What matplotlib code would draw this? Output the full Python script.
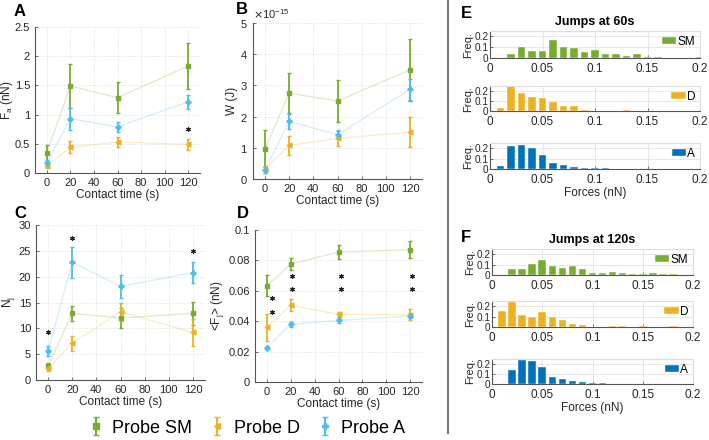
import numpy as np
import matplotlib
matplotlib.use('Agg')
import matplotlib.pyplot as plt
from matplotlib.lines import Line2D
from matplotlib.ticker import ScalarFormatter

plt.rcParams['font.family'] = ['Liberation Sans', 'DejaVu Sans']

t = [0, 20, 60, 120]

# panel A: adhesion force (nN)
fa_sm = [0.34, 1.49, 1.29, 1.83]
fa_sm_err = [0.14, 0.37, 0.27, 0.39]
fa_d = [0.12, 0.44, 0.53, 0.49]
fa_d_err = [0.04, 0.10, 0.08, 0.10]
fa_a = [0.17, 0.93, 0.79, 1.22]
fa_a_err = [0.05, 0.19, 0.08, 0.12]

# panel B: work (x1e-15 J)
w_sm = [0.97, 2.75, 2.50, 3.50]
w_sm_err = [0.60, 0.65, 0.66, 1.00]
w_d = [0.30, 1.08, 1.30, 1.50]
w_d_err = [0.12, 0.30, 0.25, 0.48]
w_a = [0.30, 1.85, 1.42, 2.87]
w_a_err = [0.10, 0.24, 0.15, 0.35]

# panel C: number of jumps
nj_sm = [2.7, 12.9, 12.0, 12.9]
nj_sm_err = [0.6, 1.4, 2.0, 2.2]
nj_d = [2.3, 7.1, 13.2, 9.2]
nj_d_err = [0.5, 1.5, 1.7, 2.6]
nj_a = [5.6, 22.8, 18.1, 20.8]
nj_a_err = [1.0, 3.0, 2.2, 2.0]

# panel D: mean jump force (nN)
fj_sm = [0.0633, 0.0775, 0.0855, 0.087]
fj_sm_err = [0.007, 0.0038, 0.0045, 0.0055]
fj_d = [0.036, 0.0505, 0.0445, 0.0443]
fj_d_err = [0.009, 0.004, 0.0015, 0.0035]
fj_a = [0.0225, 0.038, 0.0405, 0.0435]
fj_a_err = [0.001, 0.0017, 0.0017, 0.0017]

# significance stars
stars_a = ([120], [0.75])
stars_c = ([0, 20, 120], [9.2, 27.4, 24.9])
stars_d = ([4, 4, 21, 21, 62, 62, 122, 122],
           [0.055, 0.046, 0.070, 0.061, 0.070, 0.061, 0.070, 0.061])

# histograms, bin centres 0.01..0.20
bins = np.arange(1, 21) * 0.01
sm60 = [0, 0.04, 0.10, 0.068, 0.068, 0.163, 0.10, 0.095, 0.052, 0.077,
        0.037, 0.04, 0.02, 0.034, 0.012, 0.012, 0, 0, 0, 0.006]
d60 = [0.03, 0.25, 0.18, 0.14, 0.13, 0.09, 0.05, 0.05, 0.013, 0,
       0.003, 0.003, 0.012, 0, 0, 0.003, 0, 0, 0, 0]
a60 = [0.03, 0.225, 0.235, 0.20, 0.13, 0.06, 0.04, 0.022, 0.013, 0.006,
       0.006, 0, 0.002, 0, 0, 0, 0, 0, 0, 0]
sm120 = [0.003, 0.055, 0.06, 0.103, 0.14, 0.087, 0.068, 0.087, 0.058, 0.023,
         0.016, 0.032, 0.023, 0.006, 0.006, 0.016, 0.013, 0.013, 0.003, 0]
d120 = [0.158, 0.245, 0.116, 0.094, 0.142, 0.097, 0.065, 0.026, 0.023, 0,
        0, 0.013, 0.006, 0, 0.006, 0, 0, 0.006, 0, 0]
a120 = [0.004, 0.143, 0.24, 0.233, 0.167, 0.073, 0.053, 0.027, 0.02, 0.01,
        0.01, 0, 0, 0, 0, 0, 0, 0, 0, 0]

c_sm = '#77AC30'
c_d = '#EDB120'
c_a = '#4DBEEE'
c_ah = '#0072BD'
txt = '#262626'

W, H = 709, 440
fig = plt.figure(figsize=(W / 100, H / 100), dpi=100)


def box(l, r, top, bot):
    return [l / W, 1 - bot / H, (r - l) / W, (bot - top) / H]


def style(ax):
    for s in ['top', 'right']:
        ax.spines[s].set_visible(False)
    for s in ['left', 'bottom']:
        ax.spines[s].set_color('#555555')
        ax.spines[s].set_linewidth(0.8)
    ax.grid(True, color='#d9d9d9', lw=0.6, ls=':')
    ax.set_axisbelow(True)
    ax.tick_params(direction='in', length=2.5, width=0.6, colors='#555555',
                   labelcolor=txt, labelsize=8)


def series_panel(ax, sm, sme, d, de, a, ae):
    for y, e, c, m in [(sm, sme, c_sm, 's'), (d, de, c_d, '<'), (a, ae, c_a, 'P')]:
        ax.plot(t, y, color=c, lw=0.9, alpha=0.25)
        ax.errorbar(t, y, yerr=e, fmt=m, color=c, ms=3.5, elinewidth=1.3,
                    capsize=1.5, capthick=1, mec=c, mfc=c)
    ax.set_xlim(-10, 130)
    ax.set_xticks([0, 20, 40, 60, 80, 100, 120])
    ax.set_xlabel('Contact time (s)', fontsize=8.5, color=txt, labelpad=1)
    style(ax)


def stars(ax, xs, ys):
    ax.plot(xs, ys, ls='none', marker=(6, 2, 0), color='#222222', ms=3.5, mew=0.8)


axA = fig.add_axes(box(35, 200, 27, 173))
series_panel(axA, fa_sm, fa_sm_err, fa_d, fa_d_err, fa_a, fa_a_err)
axA.set_ylim(0, 2.5)
axA.set_yticks([0, 0.5, 1, 1.5, 2, 2.5])
axA.set_yticklabels(['0', '0.5', '1', '1.5', '2', '2.5'])
axA.set_ylabel('F$_\\mathregular{a}$ (nN)', fontsize=8.5, color=txt, labelpad=0)
stars(axA, *stars_a)

axB = fig.add_axes(box(253, 422, 23, 179))
series_panel(axB, [v * 1e-15 for v in w_sm], [v * 1e-15 for v in w_sm_err],
             [v * 1e-15 for v in w_d], [v * 1e-15 for v in w_d_err],
             [v * 1e-15 for v in w_a], [v * 1e-15 for v in w_a_err])
axB.set_ylim(0, 5e-15)
axB.set_yticks(np.arange(6) * 1e-15)
fmt = ScalarFormatter(useMathText=True)
fmt.set_powerlimits((0, 0))
axB.yaxis.set_major_formatter(fmt)
axB.yaxis.get_offset_text().set_fontsize(8)
axB.yaxis.get_offset_text().set_color(txt)
axB.set_ylabel('W (J)', fontsize=8.5, color=txt, labelpad=2)

axC = fig.add_axes(box(36, 205, 225, 380))
series_panel(axC, nj_sm, nj_sm_err, nj_d, nj_d_err, nj_a, nj_a_err)
axC.set_ylim(0, 30)
axC.set_yticks(range(0, 31, 5))
axC.set_ylabel('N$_\\mathregular{j}$', fontsize=8.5, color=txt, labelpad=1)
stars(axC, *stars_c)

axD = fig.add_axes(box(255, 422, 230, 382))
series_panel(axD, fj_sm, fj_sm_err, fj_d, fj_d_err, fj_a, fj_a_err)
axD.set_ylim(0, 0.1)
axD.set_yticks([0, 0.02, 0.04, 0.06, 0.08, 0.1])
axD.set_yticklabels(['0', '0.02', '0.04', '0.06', '0.08', '0.1'])
axD.set_ylabel('<F$_\\mathregular{j}$> (nN)', fontsize=8.5, color=txt, labelpad=2)
stars(axD, *stars_d)

for x, y, s in [(20, 12, 'A'), (242, 10, 'B'), (20, 214, 'C'), (243, 214, 'D'),
                (466, 13, 'E'), (466, 237, 'F')]:
    fig.text(x / W, 1 - y / H, s, fontsize=12, fontweight='bold', va='center', ha='center')

# legend
handles = []
for c, m in [(c_sm, 's'), (c_d, '<'), (c_a, 'P')]:
    eb = axA.errorbar([np.nan], [np.nan], yerr=[1], fmt=m, color=c, ms=4, capsize=2)
    handles.append(eb)
fig.legend(handles, ['Probe SM', 'Probe D', 'Probe A'], loc='center',
           bbox_to_anchor=(247 / W, 1 - 428 / H), ncol=3, frameon=False,
           fontsize=13, handlelength=0.8, handletextpad=0.5, columnspacing=1.0)

# divider
fig.add_artist(Line2D([448 / W, 448 / W], [1 - 433 / H, 1.0], color='#777777', lw=1.5))


def hist_panel(pos, vals, c, lab, xlabel=False):
    ax = fig.add_axes(pos)
    ax.bar(bins, vals, width=0.0075, color=c, edgecolor='white', linewidth=0.3, label=lab)
    ax.set_xlim(0, 0.2)
    ax.set_ylim(0, 0.25)
    ax.set_xticks([0, 0.05, 0.1, 0.15, 0.2])
    ax.set_xticklabels(['0', '0.05', '0.1', '0.15', '0.2'])
    ax.set_yticks([0, 0.1, 0.2])
    ax.set_yticklabels(['0', '0.1', '0.2'])
    style(ax)
    ax.spines['top'].set_visible(True)
    ax.spines['right'].set_visible(True)
    ax.spines['top'].set_color('#dddddd')
    ax.spines['right'].set_color('#dddddd')
    ax.grid(True, color='#e3e3e3', lw=0.6, ls='-')
    ax.tick_params(axis='x', labelsize=8.5, pad=3.5)
    ax.tick_params(axis='y', labelsize=7.2, pad=1)
    ax.set_ylabel('Freq.', fontsize=8, color=txt, labelpad=1)
    ax.legend(loc='upper right', frameon=False, fontsize=8.5, handlelength=1.2,
              handleheight=0.6, handletextpad=0.1, borderaxespad=0.1, borderpad=0.3)
    if xlabel:
        ax.set_xlabel('Forces (nN)', fontsize=8.5, color=txt, labelpad=1)
    return ax


e1 = hist_panel(box(490, 700, 31, 58), sm60, c_sm, 'SM')
e1.set_title('Jumps at 60s', fontsize=9, fontweight='bold', pad=4)
hist_panel(box(490, 700, 86, 111), d60, c_d, 'D')
hist_panel(box(490, 700, 143, 169), a60, c_ah, 'A', xlabel=True)

f1 = hist_panel(box(492, 693, 249, 275), sm120, c_sm, 'SM')
f1.set_title('Jumps at 120s', fontsize=9, fontweight='bold', pad=4)
hist_panel(box(492, 693, 301, 327), d120, c_d, 'D')
hist_panel(box(492, 693, 359, 384), a120, c_ah, 'A', xlabel=True)

fig.savefig('out.png', dpi=100)
